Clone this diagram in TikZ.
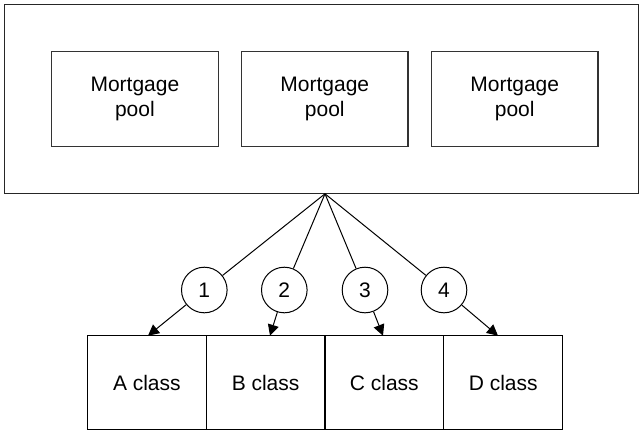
\documentclass[tikz,border=0pt]{standalone}
\usepackage{fontspec}
\setmainfont{Liberation Sans}
\usetikzlibrary{arrows.meta}
\begin{document}
\begin{tikzpicture}[x=1pt,y=-1pt,
  frame/.style={draw=black!85, line width=1.3pt, inner sep=0pt},
  pool/.style={draw=black!80, line width=1.2pt, minimum width=166.5pt, minimum height=95pt, inner sep=0pt, align=center, font=\fontsize{21}{25.5}\selectfont},
  cls/.style={draw=black, line width=1.1pt, minimum width=119pt, minimum height=93.6pt, inner sep=0pt, font=\fontsize{21}{25.5}\selectfont},
  num/.style={draw=black, line width=1pt, circle, minimum size=45.6pt, inner sep=0pt, fill=white, font=\fontsize{21}{25.5}\selectfont},
  link/.style={draw=black, line width=1pt},
  arr/.style={link, -{Triangle[length=11pt,width=11pt]}}
]
\useasboundingbox (0,0) rectangle (640,431);
\node[frame, minimum width=633.8pt, minimum height=188.8pt] (outer) at (321.6,99.1) {};
\node[pool] (p1) at (134.9,99.2) {Mortgage\\pool};
\node[pool] (p2) at (324.8,99.2) {Mortgage\\pool};
\node[pool] (p3) at (514.7,99.2) {Mortgage\\pool};
\node[cls] (A) at (146.85,382.5) {A class};
\node[cls] (B) at (265.6,382.5) {B class};
\node[cls] (C) at (384.35,382.5) {C class};
\node[cls] (D) at (503.2,382.5) {D class};
\coordinate (apex) at (325,193.8);
\node[num] (c1) at (204.3,290) {1};
\node[num] (c2) at (284.3,290) {2};
\node[num] (c3) at (365,290) {3};
\node[num] (c4) at (444,290) {4};
\coordinate (t1) at (148,335.7);
\coordinate (t2) at (270,335.7);
\coordinate (t3) at (383,335.7);
\coordinate (t4) at (498,335.7);
\draw[link] (apex) -- (c1);
\draw[link] (apex) -- (c2);
\draw[link] (apex) -- (c3);
\draw[link] (apex) -- (c4);
\draw[arr] (c1) -- (t1);
\draw[arr] (c2) -- (t2);
\draw[arr] (c3) -- (t3);
\draw[arr] (c4) -- (t4);
\end{tikzpicture}
\end{document}
